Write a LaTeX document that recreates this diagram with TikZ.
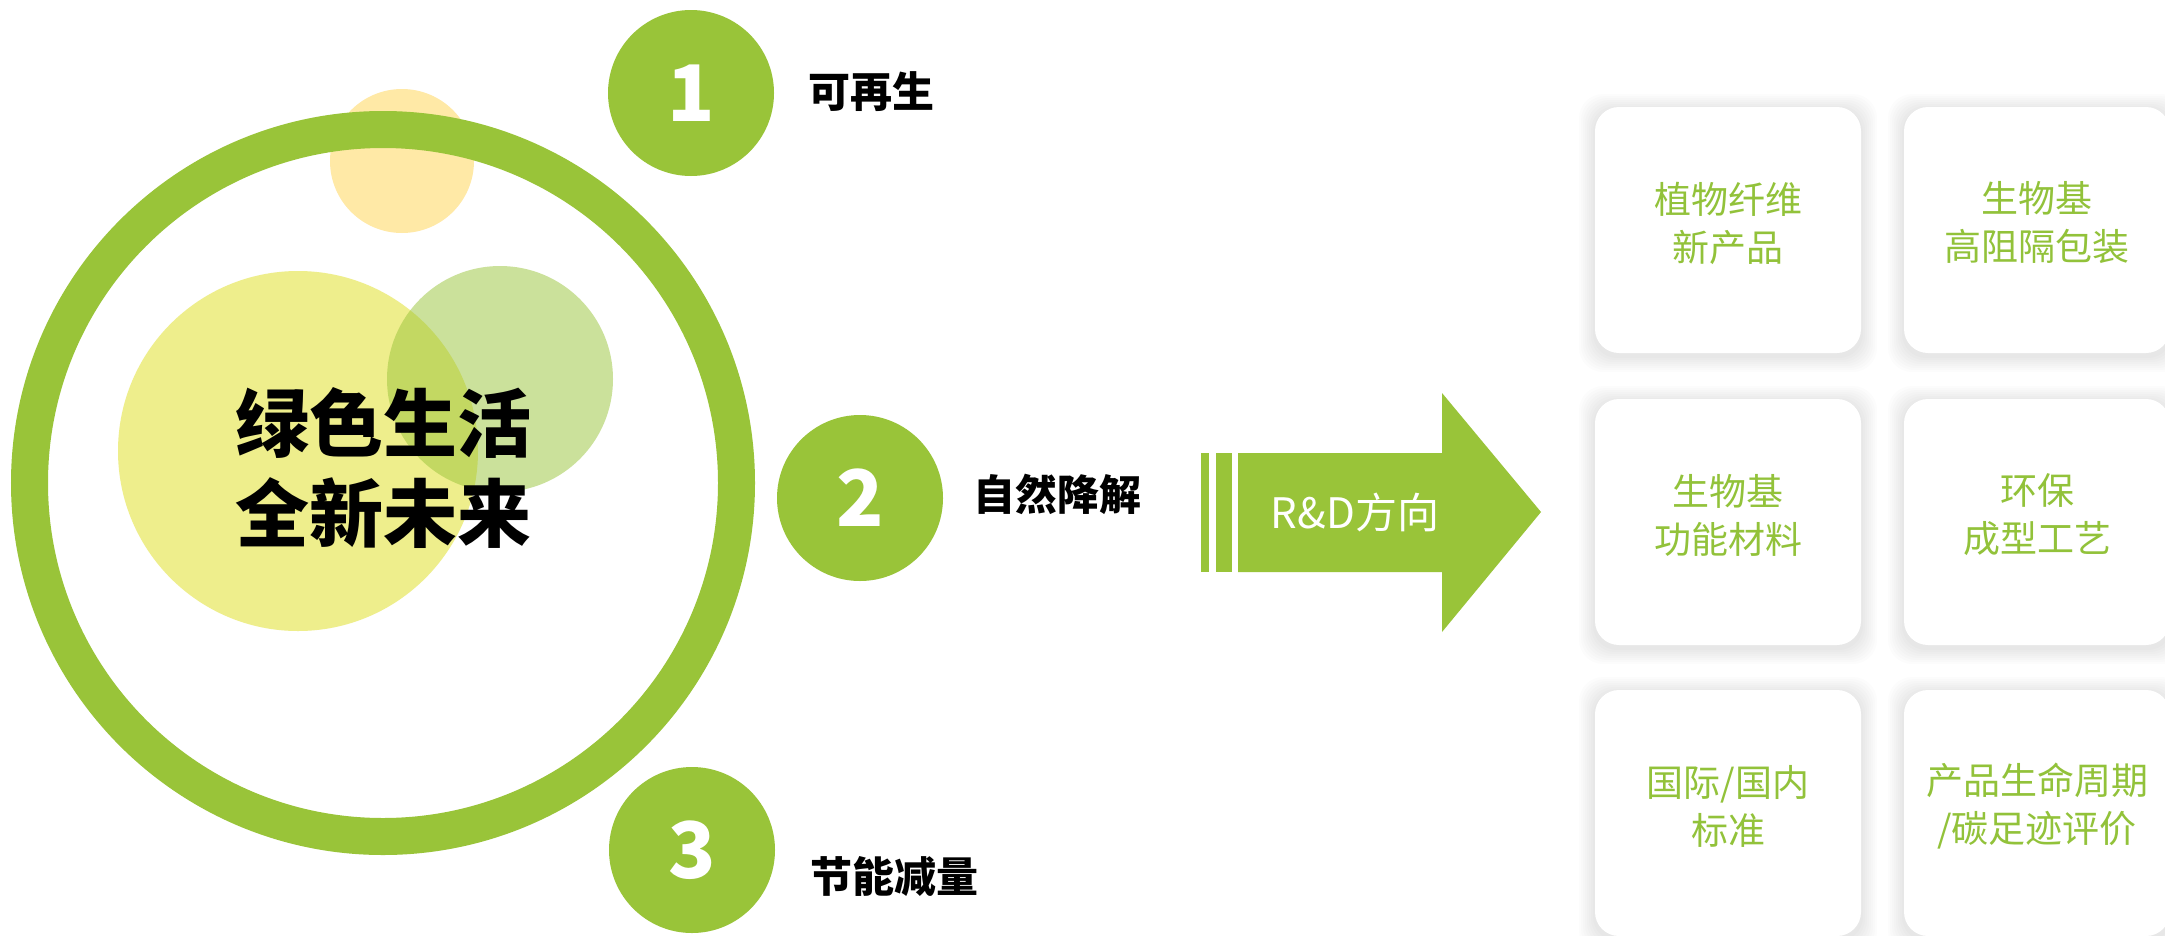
\documentclass[tikz,border=0pt]{standalone}
\usepackage{fontspec}
\newfontfamily\cjk{Noto Sans CJK SC}
\definecolor{leaf}{RGB}{153,196,57}
\definecolor{boxtext}{RGB}{146,194,58}
\definecolor{paleyel}{RGB}{238,238,140}
\definecolor{amber}{RGB}{255,192,0}
\begin{document}
\begin{tikzpicture}[x=1pt,y=-1pt,
  numc/.style={circle,fill=leaf,minimum size=166pt,inner sep=0pt,text=white,font=\cjk\bfseries\fontsize{78}{78}\selectfont},
  lab/.style={anchor=west,inner sep=0pt,font=\cjk\bfseries\fontsize{42}{50}\selectfont},
  card/.style={rounded corners=24pt,fill=white,minimum width=266pt,minimum height=246pt,inner sep=0pt},
  cardshadow/.style={rounded corners=24pt,fill=black,opacity=0.012,minimum height=246pt,minimum width=266pt,inner sep=0pt},
  cardtxt/.style={align=center,text=boxtext,inner sep=0pt,font=\cjk\fontsize{37}{48}\selectfont},
  bigtxt/.style={align=center,inner sep=0pt,font=\cjk\bfseries\fontsize{74}{89}\selectfont},
  arrowtxt/.style={text=white,inner sep=0pt,font=\cjk\fontsize{42}{50}\selectfont},
]
\useasboundingbox (0,0) rectangle (2165,935);
\clip (0,0) rectangle (2165,935);
\fill[white] (0,0) rectangle (2165,935);

% left decorative circles
\fill[amber,opacity=0.35] (402,161) circle[radius=72pt];
\fill[paleyel] (298,451) circle[radius=180pt];
\fill[leaf,opacity=0.5] (500,379) circle[radius=113pt];
\draw[leaf,line width=37pt] (383,483) circle[radius=353.5pt];
\node[bigtxt] (center) at (383,468) {绿色生活\\全新未来};

% numbered circles
\node[numc] (n1) at (691,93) {1};
\node[numc] (n2) at (860,498) {2};
\node[numc] (n3) at (692,850) {3};
\node[lab] (l1) at (808,92) {可再生};
\node[lab] (l2) at (973,494) {自然降解};
\node[lab] (l3) at (810,876) {节能减量};

% arrow
\fill[leaf] (1201,453) rectangle (1209,572);
\fill[leaf] (1216,453) rectangle (1232,572);
\fill[leaf] (1238,453) -- (1442,453) -- (1442,393) -- (1541,512) -- (1442,632) -- (1442,572) -- (1238,572) -- cycle;
\node[arrowtxt] (rd) at (1355,512) {R\&D方向};

% cards
\foreach \x/\y/\n/\t in {
  1728/230/1/{植物纤维\\新产品},
  2037/230/2/{生物基\\高阻隔包装},
  1728/522/3/{生物基\\功能材料},
  2037/522/4/{环保\\成型工艺},
  1728/813/5/{国际/国内\\标准},
  2037/813/6/{产品生命周期\\/碳足迹评价}}{
  \foreach \k in {2,4,...,16}{
    \node[cardshadow,minimum width=266pt+2*\k pt,minimum height=246pt+2*\k pt] at (\x,\y+3) {};
  }
  \node[card] (c\n) at (\x,\y) {};
  \node[cardtxt,yshift=7pt] (t\n) at (c\n.center) {\t};
}
\end{tikzpicture}
\end{document}
